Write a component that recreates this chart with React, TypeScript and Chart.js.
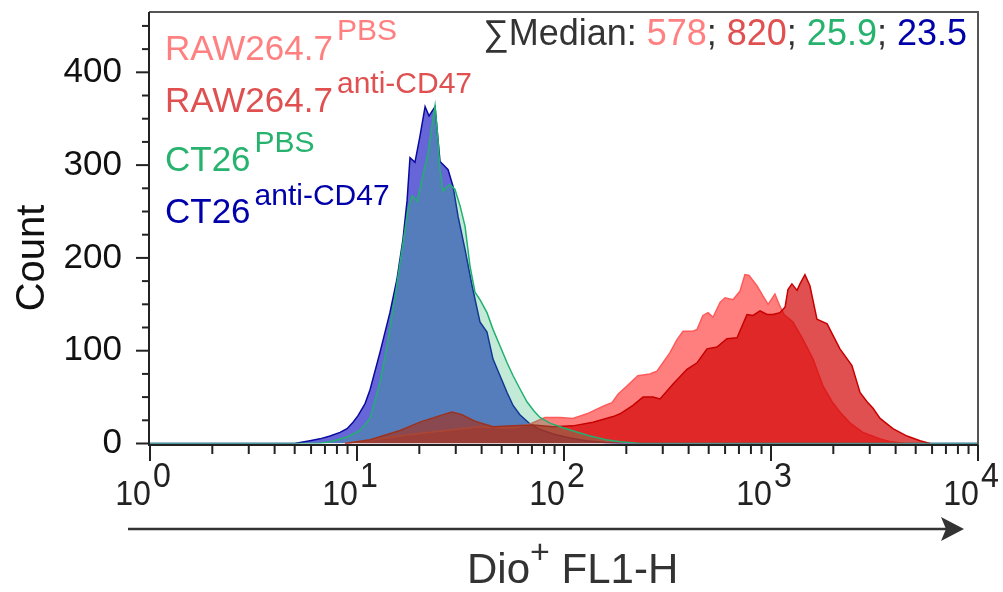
import React, { useEffect, useRef } from "react";
import { Chart, registerables } from "chart.js";
Chart.register(...registerables);

// ---- axis / text constants ----
const Y_MAX = 465;
const Y_MINOR_STEP = 25;
const Y_MAJOR_STEP = 100;
const Y_TICK_LABELS = [0, 100, 200, 300, 400];
const X_DECADES = [0, 1, 2, 3, 4];
const LEGEND_BASE = ["RAW264.7", "RAW264.7", "CT26", "CT26"];
const LEGEND_SUP = ["PBS", "anti-CD47", "PBS", "anti-CD47"];
const MEDIANS = ["578", "820", "25.9", "23.5"];
const SERIES_TEXT_COLORS = ["#ff8080", "#e05050", "#27b36e", "#0000aa"];

// ---- data: log10(FL1-H) bin positions and counts ----
const ct26AntiLog = [0, 0.70, 0.725, 0.773, 0.821, 0.870, 0.918, 0.952, 0.981, 1.005, 1.039, 1.063, 1.111, 1.159, 1.193, 1.222, 1.242, 1.256, 1.280, 1.304, 1.329, 1.348, 1.377, 1.401, 1.440, 1.464, 1.488, 1.522, 1.556, 1.594, 1.628, 1.657, 1.691, 1.725, 1.754, 1.787, 1.836, 1.884, 1.952, 2.029, 2.106, 2.198, 2.300, 4];
const ct26AntiCount = [0, 0, 1, 3, 5, 8, 12, 16, 23, 30, 43, 58, 98, 141, 177, 220, 262, 308, 303, 331, 363, 353, 363, 304, 295, 277, 245, 209, 170, 131, 120, 91, 73, 55, 41, 31, 21, 15, 10, 6, 3, 1, 0, 0];

const ct26PbsLog = [0, 0.807, 0.870, 0.952, 1.014, 1.063, 1.111, 1.145, 1.184, 1.222, 1.246, 1.266, 1.290, 1.304, 1.319, 1.343, 1.367, 1.377, 1.391, 1.401, 1.415, 1.435, 1.449, 1.473, 1.498, 1.522, 1.546, 1.570, 1.594, 1.628, 1.657, 1.691, 1.725, 1.754, 1.787, 1.821, 1.855, 1.884, 1.932, 1.995, 2.053, 2.126, 2.203, 2.271, 2.367, 4];
const ct26PbsCount = [0, 0, 2, 7, 14, 27, 66, 105, 159, 216, 252, 267, 261, 274, 290, 313, 349, 364, 328, 295, 272, 277, 279, 274, 256, 234, 191, 163, 155, 141, 123, 105, 87, 73, 59, 45, 35, 28, 22, 17, 13, 8, 4, 2, 0, 0];

const rawPbsLog = [0.942, 1.111, 1.232, 1.353, 1.473, 1.594, 1.691, 1.763, 1.836, 1.908, 1.981, 2.043, 2.111, 2.159, 2.198, 2.232, 2.261, 2.304, 2.357, 2.415, 2.449, 2.478, 2.512, 2.546, 2.575, 2.623, 2.643, 2.671, 2.696, 2.720, 2.754, 2.778, 2.816, 2.850, 2.874, 2.894, 2.932, 2.961, 2.986, 3.019, 3.043, 3.063, 3.106, 3.155, 3.203, 3.251, 3.295, 3.333, 3.382, 3.444, 3.527, 3.575, 3.647];
const rawPbsCount = [0, 5, 9, 12, 15, 18, 17, 17, 21, 28, 28, 27, 32, 37, 41, 44, 53, 62, 73, 75, 78, 87, 98, 112, 121, 121, 123, 138, 141, 136, 152, 157, 155, 164, 182, 181, 170, 159, 150, 161, 148, 139, 131, 112, 91, 62, 45, 34, 22, 12, 5, 2, 0];

const rawAntiLog = [0.942, 1.063, 1.208, 1.304, 1.401, 1.459, 1.507, 1.570, 1.657, 1.754, 1.850, 1.947, 2.043, 2.140, 2.237, 2.271, 2.333, 2.382, 2.430, 2.464, 2.527, 2.594, 2.643, 2.691, 2.739, 2.787, 2.836, 2.884, 2.913, 2.947, 2.981, 3.010, 3.043, 3.068, 3.082, 3.101, 3.126, 3.140, 3.164, 3.188, 3.222, 3.271, 3.333, 3.391, 3.430, 3.464, 3.493, 3.527, 3.589, 3.657, 3.720, 3.768];
const rawAntiCount = [0, 4, 14, 23, 30, 34, 31, 24, 18, 19, 20, 18, 19, 23, 29, 32, 41, 50, 50, 48, 64, 80, 87, 102, 104, 113, 114, 139, 138, 143, 139, 139, 141, 147, 166, 172, 165, 172, 182, 170, 134, 129, 102, 84, 55, 45, 38, 27, 16, 8, 3, 0];

const FONT = '"Liberation Sans", Arial, Helvetica, sans-serif';
const f = (s: number) => `${s}px ${FONT}`;

function toPoints(logs: number[], counts: number[]) {
  return logs.map((l, i) => ({ x: Math.pow(10, l), y: counts[i] }));
}

const axesPlugin = {
  id: "customAxes",
  afterDraw(chart: any) {
    const { ctx, chartArea: a, scales } = chart;
    const xs = scales.x;
    const ys = scales.y;
    ctx.save();
    const axY = a.bottom + 1.5;
    const axX = a.left - 1;

    // frame (top/right)
    ctx.strokeStyle = "#555";
    ctx.lineWidth = 2;
    ctx.beginPath();
    ctx.moveTo(axX, a.top);
    ctx.lineTo(a.right, a.top);
    ctx.lineTo(a.right, axY);
    ctx.stroke();

    // axes lines
    ctx.strokeStyle = "#222";
    ctx.beginPath();
    ctx.moveTo(axX, a.top);
    ctx.lineTo(axX, axY);
    ctx.lineTo(a.right, axY);
    ctx.stroke();

    // y ticks
    for (let v = 0; v <= Y_MAX; v += Y_MINOR_STEP) {
      const py = ys.getPixelForValue(v);
      const major = v % Y_MAJOR_STEP === 0;
      ctx.beginPath();
      ctx.moveTo(axX, py);
      ctx.lineTo(axX - (major ? 13 : 7), py);
      ctx.stroke();
    }
    ctx.fillStyle = "#111";
    ctx.font = f(35);
    ctx.textAlign = "right";
    ctx.textBaseline = "middle";
    Y_TICK_LABELS.forEach((v) => {
      ctx.fillText(String(v), 122, ys.getPixelForValue(v));
    });

    // x ticks
    for (let d = 0; d < X_DECADES.length; d++) {
      const base = Math.pow(10, X_DECADES[d]);
      const px = xs.getPixelForValue(base);
      ctx.beginPath();
      ctx.moveTo(px, axY);
      ctx.lineTo(px, axY + 16);
      ctx.stroke();
      if (d < X_DECADES.length - 1) {
        for (let k = 2; k <= 9; k++) {
          const mx = xs.getPixelForValue(k * base);
          ctx.beginPath();
          ctx.moveTo(mx, axY);
          ctx.lineTo(mx, axY + 9);
          ctx.stroke();
        }
      }
    }
    // x tick labels 10^n
    ctx.fillStyle = "#222";
    ctx.textBaseline = "alphabetic";
    X_DECADES.forEach((e) => {
      const px = xs.getPixelForValue(Math.pow(10, e));
      ctx.save();
      ctx.translate(px + 1, 505);
      ctx.scale(0.92, 1);
      ctx.font = f(35);
      ctx.textAlign = "right";
      ctx.fillText("10", 0, 0);
      ctx.restore();
      ctx.save();
      ctx.translate(px + 3, 487);
      ctx.scale(0.92, 1);
      ctx.font = f(35);
      ctx.textAlign = "left";
      ctx.fillText(String(e), 0, 0);
      ctx.restore();
    });

    // arrow
    ctx.strokeStyle = "#333";
    ctx.fillStyle = "#333";
    ctx.lineWidth = 2.5;
    ctx.beginPath();
    ctx.moveTo(128, 529);
    ctx.lineTo(948, 529);
    ctx.stroke();
    ctx.beginPath();
    ctx.moveTo(964, 529);
    ctx.lineTo(941, 517);
    ctx.lineTo(946, 529);
    ctx.lineTo(941, 541);
    ctx.closePath();
    ctx.fill();

    // x title: Dio^+ FL1-H
    ctx.fillStyle = "#333";
    ctx.textAlign = "left";
    ctx.font = f(42);
    let tx = 467;
    ctx.fillText("Dio", tx, 583);
    tx += ctx.measureText("Dio").width;
    ctx.font = f(34);
    ctx.fillText("+", tx, 563);
    tx += ctx.measureText("+").width;
    ctx.font = f(42);
    ctx.fillText(" FL1-H", tx, 583);

    // y title
    ctx.save();
    ctx.translate(44, 258);
    ctx.rotate(-Math.PI / 2);
    ctx.fillStyle = "#111";
    ctx.font = f(40);
    ctx.textAlign = "center";
    ctx.textBaseline = "alphabetic";
    ctx.fillText("Count", 0, 0);
    ctx.restore();

    // legend text
    const baseY = [60, 112, 171, 223];
    const supY = [40, 93, 152, 205];
    LEGEND_BASE.forEach((b, i) => {
      ctx.fillStyle = SERIES_TEXT_COLORS[i];
      ctx.font = f(35);
      ctx.textAlign = "left";
      ctx.fillText(b, 165, baseY[i]);
      const w = ctx.measureText(b).width;
      ctx.font = f(30);
      ctx.fillText(LEGEND_SUP[i], 165 + w + 4, supY[i]);
    });

    // median text
    const parts: [string, string][] = [["\u2211Median: ", "#333"]];
    MEDIANS.forEach((m, i) => {
      parts.push([m, SERIES_TEXT_COLORS[i]]);
      if (i < MEDIANS.length - 1) parts.push(["; ", "#333"]);
    });
    ctx.font = f(36);
    let total = 0;
    parts.forEach(([t]) => (total += ctx.measureText(t).width));
    let mx = 967 - total;
    parts.forEach(([t, c]) => {
      ctx.fillStyle = c;
      ctx.fillText(t, mx, 45);
      mx += ctx.measureText(t).width;
    });

    ctx.restore();
  },
};

export default function App() {
  const ref = useRef<HTMLCanvasElement>(null);
  useEffect(() => {
    if (!ref.current) return;
    const chart = new Chart(ref.current, {
      type: "line",
      data: {
        datasets: [
          {
            label: "CT26 PBS",
            data: toPoints(ct26PbsLog, ct26PbsCount),
            borderColor: "#22b070",
            backgroundColor: "rgba(40,180,110,0.28)",
            fill: "origin",
            order: 0,
          },
          {
            label: "RAW264.7 anti-CD47",
            data: toPoints(rawAntiLog, rawAntiCount),
            borderColor: "#c80000",
            backgroundColor: "rgba(210,0,0,0.685)",
            fill: "origin",
            order: 1,
          },
          {
            label: "RAW264.7 PBS",
            data: toPoints(rawPbsLog, rawPbsCount),
            borderColor: "#ff5a5a",
            backgroundColor: "rgba(255,0,0,0.5)",
            fill: "origin",
            order: 2,
          },
          {
            label: "CT26 anti-CD47",
            data: toPoints(ct26AntiLog, ct26AntiCount),
            borderColor: "#0a0aa0",
            backgroundColor: "rgba(0,0,190,0.6)",
            fill: "origin",
            order: 3,
          },
        ],
      },
      options: {
        responsive: false,
        animation: false,
        devicePixelRatio: 1,
        events: [],
        layout: { padding: { left: 150, right: 25, top: 12, bottom: 148.5 } },
        elements: {
          point: { radius: 0 },
          line: { tension: 0, borderWidth: 1.5 },
        },
        scales: {
          x: { type: "logarithmic", min: 1, max: 10000, display: false },
          y: { type: "linear", min: 0, max: Y_MAX, display: false },
        },
        plugins: { legend: { display: false }, tooltip: { enabled: false } },
      },
      plugins: [axesPlugin],
    } as any);
    return () => chart.destroy();
  }, []);
  return (
    <div style={{ position: "fixed", left: 0, top: 0, width: 1003, height: 592, background: "#fff" }}>
      <canvas ref={ref} width={1003} height={592} style={{ display: "block" }} />
    </div>
  );
}
